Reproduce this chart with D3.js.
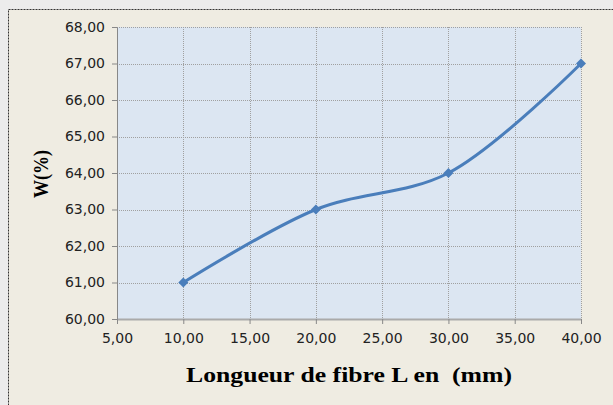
<!DOCTYPE html>
<head>
  <meta charset="utf-8">
  <script src="https://d3js.org/d3.v7.min.js"></script>
  <style>
    body { margin: 0; background: #ececec; }
  </style>
</head>
<body>
  <div id="chart"></div>
  <script>
    const xValues = [10, 20, 30, 40];
    const wValues = [61, 63, 64, 67];
    const xTicks = [5, 10, 15, 20, 25, 30, 35, 40];
    const yTicks = [60, 61, 62, 63, 64, 65, 66, 67, 68];

    const fmt = v => v.toFixed(2).replace(".", ",");

    const svg = d3.select("#chart").append("svg")
      .attr("width", 613).attr("height", 405);

    svg.append("rect")
      .attr("x", 8.5).attr("y", 9.5).attr("width", 620).attr("height", 400)
      .attr("fill", "#efece2").attr("stroke", "#333").attr("stroke-dasharray", "2,1");

    const x = d3.scaleLinear().domain([5, 40]).range([117, 581]);
    const y = d3.scaleLinear().domain([60, 68]).range([319, 27]);

    svg.append("rect")
      .attr("x", x(5)).attr("y", y(68))
      .attr("width", x(40) - x(5)).attr("height", y(60) - y(68))
      .attr("fill", "#dce6f2");

    const g = svg.append("g");
    g.selectAll(".hg").data(yTicks.slice(1)).join("line")
      .attr("x1", x(5)).attr("x2", x(40))
      .attr("y1", d => Math.round(y(d)) + 0.5).attr("y2", d => Math.round(y(d)) + 0.5)
      .attr("stroke", "#a0a0a0").attr("stroke-dasharray", "1,1");
    g.selectAll(".vg").data(xTicks.slice(1)).join("line")
      .attr("y1", y(68)).attr("y2", y(60))
      .attr("x1", d => Math.round(x(d)) + 0.5).attr("x2", d => Math.round(x(d)) + 0.5)
      .attr("stroke", "#a0a0a0").attr("stroke-dasharray", "1,1");

    const xAxis = svg.append("g").attr("transform", `translate(0,${y(60)})`)
      .call(d3.axisBottom(x).tickValues(xTicks).tickFormat(fmt).tickSize(5).tickSizeOuter(0));
    const yAxis = svg.append("g").attr("transform", `translate(${x(5)},0)`)
      .call(d3.axisLeft(y).tickValues(yTicks).tickFormat(fmt).tickSize(5).tickSizeOuter(0));
    [xAxis, yAxis].forEach(a => {
      a.selectAll("path, line").attr("stroke", "#888");
      a.selectAll("text").attr("font-family", "DejaVu Sans").attr("font-size", 14).attr("fill", "#222");
    });
    xAxis.select(".domain").attr("stroke", "#aaa").attr("stroke-width", 2);
    xAxis.selectAll("text").attr("dy", "1.15em");
    yAxis.selectAll("text").attr("x", -12);

    const pts = xValues.map((d, i) => [d, wValues[i]]);
    svg.append("path").datum(pts)
      .attr("d", d3.line().x(d => x(d[0])).y(d => y(d[1])).curve(d3.curveCatmullRom.alpha(0.5)))
      .attr("fill", "none").attr("stroke", "#4a7ebb").attr("stroke-width", 3);

    svg.selectAll(".pt").data(pts).join("path")
      .attr("transform", d => `translate(${x(d[0])},${y(d[1])}) rotate(45)`)
      .attr("d", d3.symbol(d3.symbolSquare, 50))
      .attr("fill", "#4a7ebb");

    svg.append("text").attr("x", 349).attr("y", 382).attr("text-anchor", "middle")
      .attr("font-family", "Liberation Serif").attr("font-weight", "bold").attr("font-size", 21)
      .attr("xml:space", "preserve").attr("textLength", 326).attr("lengthAdjust", "spacingAndGlyphs")
      .text("Longueur de fibre L en  (mm)");
    svg.append("text").attr("transform", "translate(48,174) rotate(-90)").attr("text-anchor", "middle")
      .attr("font-family", "Liberation Serif").attr("font-weight", "bold").attr("font-size", 20)
      .attr("textLength", 48).attr("lengthAdjust", "spacingAndGlyphs")
      .text("W(%)");
  </script>
</body>
